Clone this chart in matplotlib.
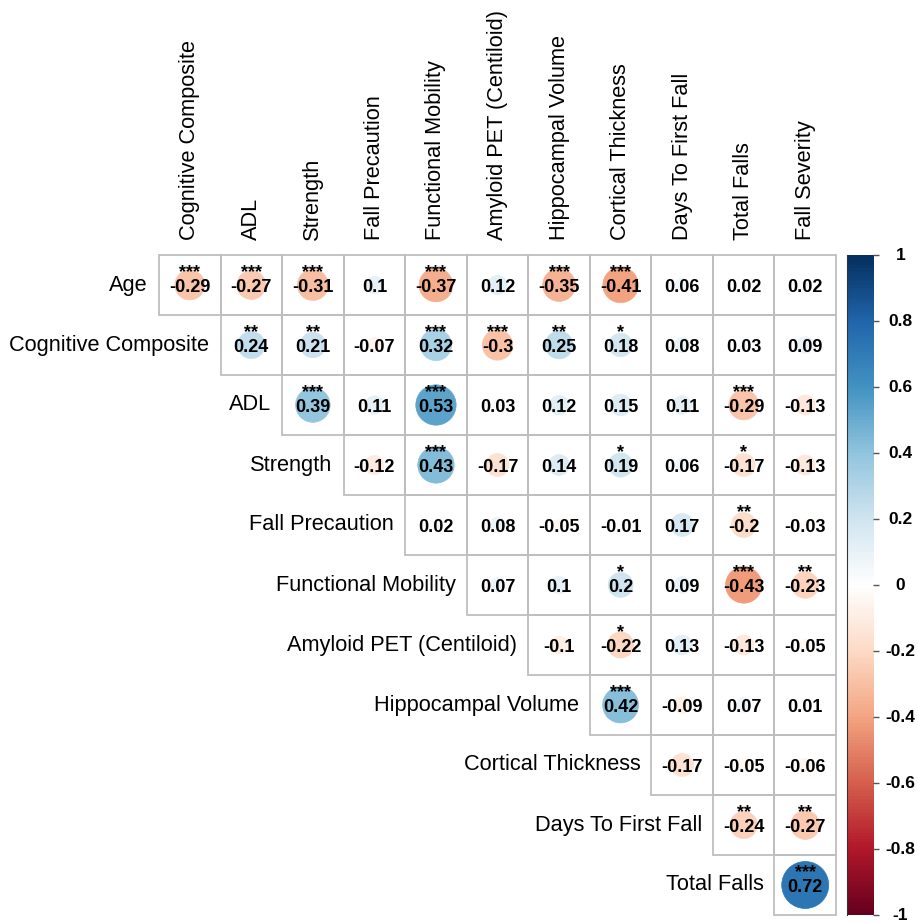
import numpy as np
import matplotlib
matplotlib.use("Agg")
import matplotlib.pyplot as plt
from matplotlib.colors import LinearSegmentedColormap
from matplotlib.patches import Ellipse, Rectangle

plt.rcParams["font.family"] = ["Liberation Sans", "DejaVu Sans"]

row_labels = ["Age", "Cognitive Composite", "ADL", "Strength", "Fall Precaution",
              "Functional Mobility", "Amyloid PET (Centiloid)", "Hippocampal Volume",
              "Cortical Thickness", "Days To First Fall", "Total Falls"]
col_labels = ["Cognitive Composite", "ADL", "Strength", "Fall Precaution",
              "Functional Mobility", "Amyloid PET (Centiloid)", "Hippocampal Volume",
              "Cortical Thickness", "Days To First Fall", "Total Falls", "Fall Severity"]

# Upper-triangle correlations; each row starts on the diagonal
r_age = [-0.29, -0.27, -0.31, 0.1, -0.37, 0.12, -0.35, -0.41, 0.06, 0.02, 0.02]
s_age = ["***", "***", "***", "", "***", "", "***", "***", "", "", ""]
r_cog = [0.24, 0.21, -0.07, 0.32, -0.3, 0.25, 0.18, 0.08, 0.03, 0.09]
s_cog = ["**", "**", "", "***", "***", "**", "*", "", "", ""]
r_adl = [0.39, 0.11, 0.53, 0.03, 0.12, 0.15, 0.11, -0.29, -0.13]
s_adl = ["***", "", "***", "", "", "", "", "***", ""]
r_str = [-0.12, 0.43, -0.17, 0.14, 0.19, 0.06, -0.17, -0.13]
s_str = ["", "***", "", "", "*", "", "*", ""]
r_fp = [0.02, 0.08, -0.05, -0.01, 0.17, -0.2, -0.03]
s_fp = ["", "", "", "", "", "**", ""]
r_fm = [0.07, 0.1, 0.2, 0.09, -0.43, -0.23]
s_fm = ["", "", "*", "", "***", "**"]
r_amy = [-0.1, -0.22, 0.13, -0.13, -0.05]
s_amy = ["", "*", "", "", ""]
r_hip = [0.42, -0.09, 0.07, 0.01]
s_hip = ["***", "", "", ""]
r_ct = [-0.17, -0.05, -0.06]
s_ct = ["", "", ""]
r_dff = [-0.24, -0.27]
s_dff = ["**", "**"]
r_tf = [0.72]
s_tf = ["***"]

cbar_ticks = [1, 0.8, 0.6, 0.4, 0.2, 0, -0.2, -0.4, -0.6, -0.8, -1]

rows_r = [r_age, r_cog, r_adl, r_str, r_fp, r_fm, r_amy, r_hip, r_ct, r_dff, r_tf]
rows_s = [s_age, s_cog, s_adl, s_str, s_fp, s_fm, s_amy, s_hip, s_ct, s_dff, s_tf]

cmap = LinearSegmentedColormap.from_list(
    "rdbu2",
    ["#67001F", "#B2182B", "#D6604D", "#F4A582", "#FDDBC7", "#FFFFFF",
     "#D1E5F0", "#92C5DE", "#4393C3", "#2166AC", "#053061"], N=200)

W, H = 918, 923
fig = plt.figure(figsize=(W / 100, H / 100), dpi=100)

gx0, gx1, gy0, gy1 = 159, 836, 255, 915
ax = fig.add_axes([gx0 / W, (H - gy1) / H, (gx1 - gx0) / W, (gy1 - gy0) / H])
n = len(col_labels)
ax.set_xlim(0, n)
ax.set_ylim(n, 0)
ax.axis("off")

cell_w = (gx1 - gx0) / n
cell_h = (gy1 - gy0) / n
aspect = cell_w / cell_h

grid_col = "#BEBEBE"
for i, (vals, stars) in enumerate(zip(rows_r, rows_s)):
    for k, (v, st) in enumerate(zip(vals, stars)):
        j = i + k
        ax.add_patch(Rectangle((j, i), 1, 1, facecolor="none", edgecolor=grid_col,
                               lw=1.3, zorder=1, clip_on=False))
        d = 0.9 * np.sqrt(abs(v))
        col = cmap((v + 1) / 2)
        ax.add_patch(Ellipse((j + 0.5, i + 0.5), d, d * aspect, facecolor=col,
                             edgecolor=col, lw=0.5, zorder=2))
        # coefficient, with its significance stars stacked above it
        label = f"{st}\n{v:g}" if st else f"{v:g}"
        ax.text(j + 0.5, i + 0.62, label, ha="center", va="baseline",
                multialignment="center", linespacing=0.83,
                fontsize=13, fontweight="bold", color="black", zorder=3)

for i, name in enumerate(row_labels):
    ax.text(i - 0.18, i + 0.5, name, ha="right", va="center", fontsize=15.7,
            color="black", clip_on=False)
for j, name in enumerate(col_labels):
    ax.text(j + 0.5, -0.25, name, ha="center", va="bottom", rotation=90,
            fontsize=15.7, color="black", clip_on=False)

# Colour legend
cx0, cx1 = 847, 873
cax = fig.add_axes([cx0 / W, (H - gy1) / H, (cx1 - cx0) / W, (gy1 - gy0) / H])
grad = np.linspace(-1, 1, 400).reshape(-1, 1)
cax.imshow(grad, cmap=cmap, vmin=-1, vmax=1, origin="lower", aspect="auto",
           extent=[0, 1, -1, 1])
cax.set_xlim(0, 1)
cax.set_ylim(-1, 1)
cax.set_xticks([])
cax.yaxis.tick_right()
cax.set_yticks(cbar_ticks)
cax.set_yticklabels([])
cax.tick_params(axis="y", length=4, width=1, color="#555555", direction="out")
for s in ["top", "bottom", "right"]:
    cax.spines[s].set_visible(False)
cax.spines["left"].set_color("#333333")
cax.spines["left"].set_linewidth(0.8)
for t in cbar_ticks:
    cax.text(2.05, t, f"{t:g}", transform=cax.transData, ha="center", va="center",
             fontsize=12.5, fontweight="bold", color="black", clip_on=False)

fig.savefig("out.png", dpi=100, facecolor="white")
